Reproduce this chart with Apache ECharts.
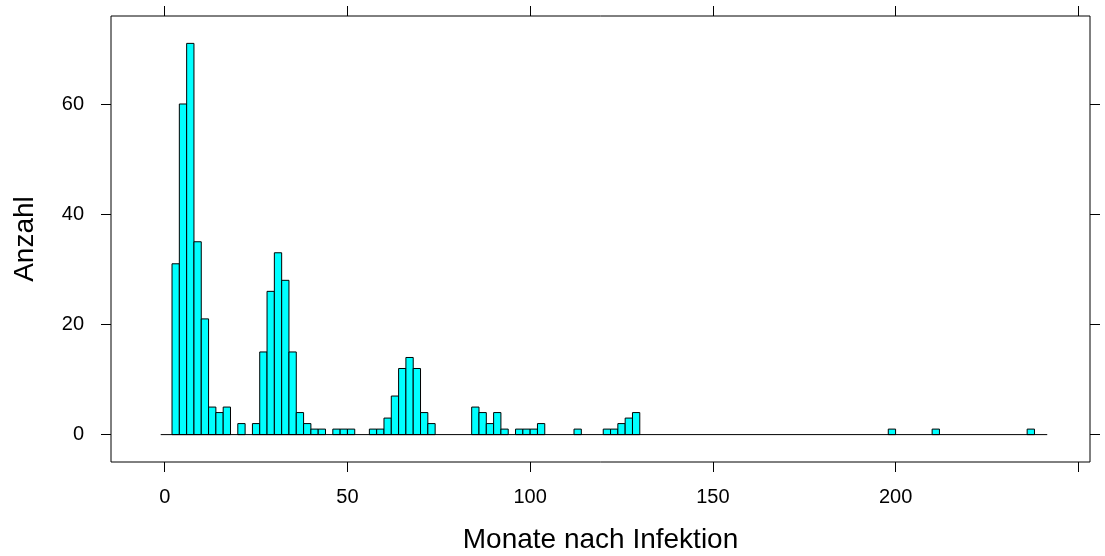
<!DOCTYPE html>
<html>
<head>
<meta charset="utf-8">
<title>Monate nach Infektion</title>
<script src="https://cdn.jsdelivr.net/npm/echarts@6/dist/echarts.min.js"></script>
<style>
  html, body { margin: 0; padding: 0; background: #fff; }
  #container { width: 1105px; height: 556px; }
</style>
</head>
<body>
<div id="container"></div>
<script>
// histogram data: bin start (months), bin width 2, counts
var binStarts = [2, 4, 6, 8, 10, 12, 14, 16, 20, 24, 26, 28, 30, 32, 34, 36, 38, 40, 42,
  46, 48, 50, 56, 58, 60, 62, 64, 66, 68, 70, 72, 84, 86, 88, 90, 92, 96, 98, 100, 102,
  112, 120, 122, 124, 126, 128, 198, 210, 236];
var counts = [31, 60, 71, 35, 21, 5, 4, 5, 2, 2, 15, 26, 33, 28, 15, 4, 2, 1, 1,
  1, 1, 1, 1, 1, 3, 7, 12, 14, 12, 4, 2, 5, 4, 2, 4, 1, 1, 1, 1, 2,
  1, 1, 1, 2, 3, 4, 1, 1, 1];
var binWidth = 2;

var xTicks = [0, 50, 100, 150, 200, 250];
var xLabels = [0, 50, 100, 150, 200];
var yTicks = [0, 20, 40, 60];
var baseline = [-1.1, 241.5];

(function () {
  var dom = document.getElementById("container");
  var myChart = echarts.init(dom);
  var font = 'Liberation Sans, Arial, sans-serif';

  var bins = binStarts.map(function (s, i) {
    return [s, s + binWidth, counts[i]];
  });

  var tickStyle = { color: '#000', width: 1 };

  var xBase = {
    type: 'value',
    min: -14.7,
    max: 253.2,
    splitLine: { show: false },
    axisLine: { show: false, onZero: false }
  };
  var yBase = {
    type: 'value',
    min: -4.97,
    max: 75.97,
    splitLine: { show: false },
    axisLine: { show: false, onZero: false }
  };

  var option = {
    animation: false,
    backgroundColor: '#fff',
    grid: {
      left: 111, right: 15, top: 16, bottom: 94,
      outerBoundsMode: 'none',
      containLabel: false,
      show: true, borderColor: '#000', borderWidth: 1
    },
    xAxis: [
      Object.assign({}, xBase, {
        position: 'bottom',
        name: 'Monate nach Infektion',
        nameLocation: 'middle',
        nameGap: 64,
        nameTextStyle: { fontSize: 28, color: '#000', fontFamily: font },
        axisTick: { show: true, length: 10, customValues: xTicks, lineStyle: tickStyle },
        axisLabel: { customValues: xLabels, fontSize: 20, color: '#000', fontFamily: font, margin: 25 }
      }),
      Object.assign({}, xBase, {
        position: 'top',
        axisTick: { show: true, length: 10, customValues: xTicks, lineStyle: tickStyle },
        axisLabel: { show: false }
      })
    ],
    yAxis: [
      Object.assign({}, yBase, {
        position: 'left',
        name: 'Anzahl',
        nameLocation: 'middle',
        nameGap: 72,
        nameTextStyle: { fontSize: 28, color: '#000', fontFamily: font },
        axisTick: { show: true, length: 10, customValues: yTicks, lineStyle: tickStyle },
        axisLabel: { customValues: yTicks, fontSize: 20, color: '#000', fontFamily: font, margin: 27 }
      }),
      Object.assign({}, yBase, {
        position: 'right',
        axisTick: { show: true, length: 10, customValues: yTicks, lineStyle: tickStyle },
        axisLabel: { show: false }
      })
    ],
    series: [
      {
        type: 'line',
        data: [[baseline[0], 0], [baseline[1], 0]],
        symbol: 'none',
        silent: true,
        lineStyle: { color: '#000', width: 1 }
      },
      {
        type: 'custom',
        data: bins,
        encode: { x: [0, 1], y: 2 },
        renderItem: function (params, api) {
          var p0 = api.coord([api.value(0), 0]);
          var p1 = api.coord([api.value(1), api.value(2)]);
          return {
            type: 'rect',
            shape: { x: p0[0], y: p1[1], width: p1[0] - p0[0], height: p0[1] - p1[1] },
            style: { fill: '#00FFFF', stroke: '#000', lineWidth: 1 }
          };
        }
      }
    ]
  };

  myChart.setOption(option, true);
})();
</script>
</body>
</html>
